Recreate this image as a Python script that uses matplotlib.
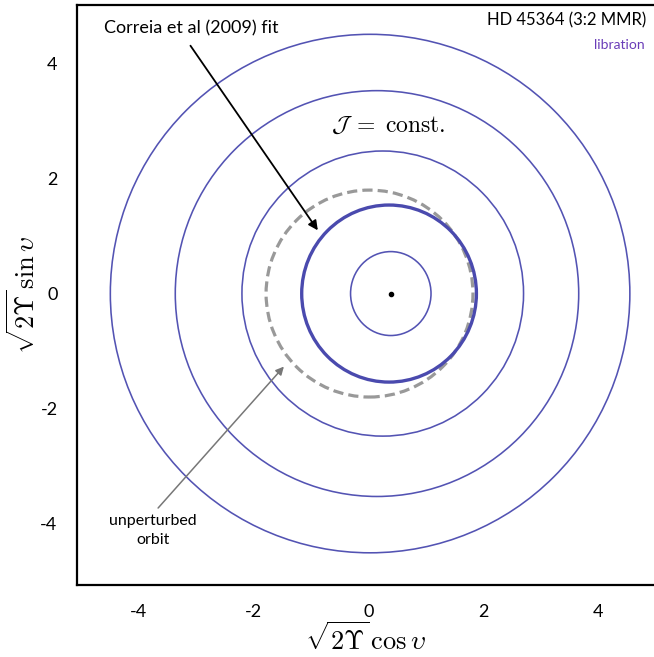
import matplotlib.pyplot as plt
from matplotlib.patches import Ellipse

plt.rcParams['mathtext.fontset'] = 'cm'
plt.rcParams['font.family'] = ['Lato', 'DejaVu Sans']
plt.rcParams['axes.unicode_minus'] = False

# J = const. level curves (centre x, half width, half height)
contour_cx = [0.39, 0.25, 0.15, 0.03]
contour_rx = [0.70, 2.45, 3.51, 4.52]
contour_ry = [0.73, 2.48, 3.53, 4.51]

# Correia et al (2009) fit
fit_cx, fit_rx, fit_ry = 0.36, 1.52, 1.54
# unperturbed orbit
unp_cx, unp_r = 0.02, 1.80
# fixed point
fixed_x, fixed_y = 0.39, 0.0

blue = '#5353b3'

fig = plt.figure(figsize=(6.54, 6.57), dpi=100)
ax = fig.add_axes([77 / 654, 72 / 657, 577 / 654, 580 / 657])

for cx, rx, ry in zip(contour_cx, contour_rx, contour_ry):
    ax.add_patch(Ellipse((cx, 0), 2 * rx, 2 * ry, fill=False, ec=blue, lw=1.15))

ax.add_patch(Ellipse((unp_cx, 0), 2 * unp_r, 2 * unp_r, fill=False,
                     ec='#999999', lw=2.3, ls=(0, (3.2, 1.6))))
ax.add_patch(Ellipse((fit_cx, 0), 2 * fit_rx, 2 * fit_ry, fill=False,
                     ec='#4a4aae', lw=2.4))
ax.plot([fixed_x], [fixed_y], 'o', color='black', ms=3)

ax.set_xlim(-5.07, 4.97)
ax.set_ylim(-5.07, 5.02)
ax.set_xticks([-4, -2, 0, 2, 4])
ax.set_yticks([-4, -2, 0, 2, 4])
ax.tick_params(length=0, labelsize=13, pad=14)
for s in ['left', 'bottom', 'top']:
    ax.spines[s].set_linewidth(1.6)
ax.spines['right'].set_visible(False)

ax.set_xlabel(r'$\sqrt{2\Upsilon}\,\cos\upsilon$', fontsize=19, labelpad=1)
ax.set_ylabel(r'$\sqrt{2\Upsilon}\,\sin\upsilon$', fontsize=19, labelpad=0)

ax.text(0.35, 2.92, r'$\mathcal{J}\;=\;\mathrm{const.}$', fontsize=17,
        ha='center', va='center')
ax.text(4.97 - 0.14, 4.75, 'HD 45364 (3:2 MMR)', fontsize=12,
        ha='right', va='center')
ax.text(4.97 - 0.16, 4.33, 'libration', fontsize=10, color='#6a3db8',
        ha='right', va='center')

ax.annotate('Correia et al (2009) fit', xy=(-0.88, 1.10), xytext=(-3.09, 4.62),
            fontsize=13, ha='center', va='center',
            arrowprops=dict(arrowstyle='-|>', color='black', lw=1.3,
                            relpos=(0.46, 0.0), shrinkA=6, shrinkB=0,
                            mutation_scale=14))
ax.annotate('unperturbed\norbit', xy=(-1.47, -1.27), xytext=(-3.75, -4.12),
            fontsize=11.5, ha='center', va='center', linespacing=1.45,
            arrowprops=dict(arrowstyle='-|>', color='#777777', lw=1.1,
                            relpos=(0.5, 1.0), shrinkA=3, shrinkB=0,
                            mutation_scale=12))

fig.savefig('out.png', dpi=100)
